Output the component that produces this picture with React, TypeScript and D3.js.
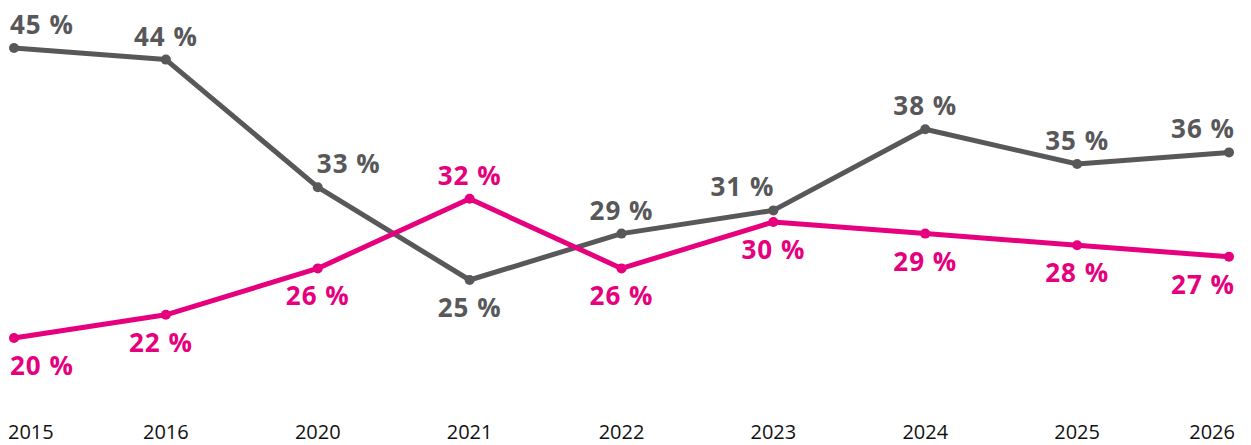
import React from "react";
import * as d3 from "d3";

const years = ["2015", "2016", "2020", "2021", "2022", "2023", "2024", "2025", "2026"];
const grayValues = [45, 44, 33, 25, 29, 31, 38, 35, 36];
const pinkValues = [20, 22, 26, 32, 26, 30, 29, 28, 27];
// label placement: 1 = above point, -1 = below point
const grayPlacement = [1, 1, 1, -1, 1, 1, 1, 1, 1];
const pinkPlacement = [-1, -1, -1, 1, -1, -1, -1, -1, -1];
// horizontal nudges for labels that would collide with the lines
const grayNudge = [0, 0, 31, 0, 0, -31, 0, 0, 0];
const pinkNudge = [0, -5, 0, 0, 0, 0, 0, 0, 0];

const W = 1251;
const H = 445;
const GRAY = "#58585a";
const PINK = "#e6007e";

export default function App() {
  const x = d3.scalePoint<string>().domain(years).range([14, 1229]);
  const y = d3.scaleLinear().domain([0, 45]).range([570, 48]);
  const line = d3
    .line<number>()
    .x((_, i) => x(years[i]) as number)
    .y((d) => y(d));

  const series = [
    { values: grayValues, color: GRAY, placement: grayPlacement, nudge: grayNudge },
    { values: pinkValues, color: PINK, placement: pinkPlacement, nudge: pinkNudge },
  ];
  const n = years.length;
  const anchorFor = (i: number) => (i === 0 ? "start" : i === n - 1 ? "end" : "middle");
  const edgeDx = (i: number) => (i === 0 ? -4 : i === n - 1 ? 6 : 0);

  return (
    <svg
      width={W}
      height={H}
      style={{ position: "absolute", left: 0, top: 0, background: "#fff" }}
      fontFamily="'Open Sans', sans-serif"
    >
      {series.map((s, si) => (
        <g key={si}>
          <path d={line(s.values) || ""} fill="none" stroke={s.color} strokeWidth={5} strokeLinejoin="round" />
          {s.values.map((v, i) => (
            <circle key={i} cx={x(years[i])} cy={y(v)} r={5} fill={s.color} />
          ))}
          {s.values.map((v, i) => (
            <text
              key={"t" + i}
              x={(x(years[i]) as number) + edgeDx(i) + s.nudge[i]}
              y={s.placement[i] > 0 ? y(v) - 14 : y(v) + 37}
              textAnchor={anchorFor(i)}
              fill={s.color}
              fontSize={26}
              fontWeight={700}
              letterSpacing={1}
            >
              {`${v} %`}
            </text>
          ))}
        </g>
      ))}
      {years.map((yr, i) => (
        <text
          key={yr}
          x={(x(yr) as number) + (i === 0 ? -6 : i === n - 1 ? 6 : 0)}
          y={439}
          textAnchor={anchorFor(i)}
          fill="#111"
          fontSize={20}
        >
          {yr}
        </text>
      ))}
    </svg>
  );
}
